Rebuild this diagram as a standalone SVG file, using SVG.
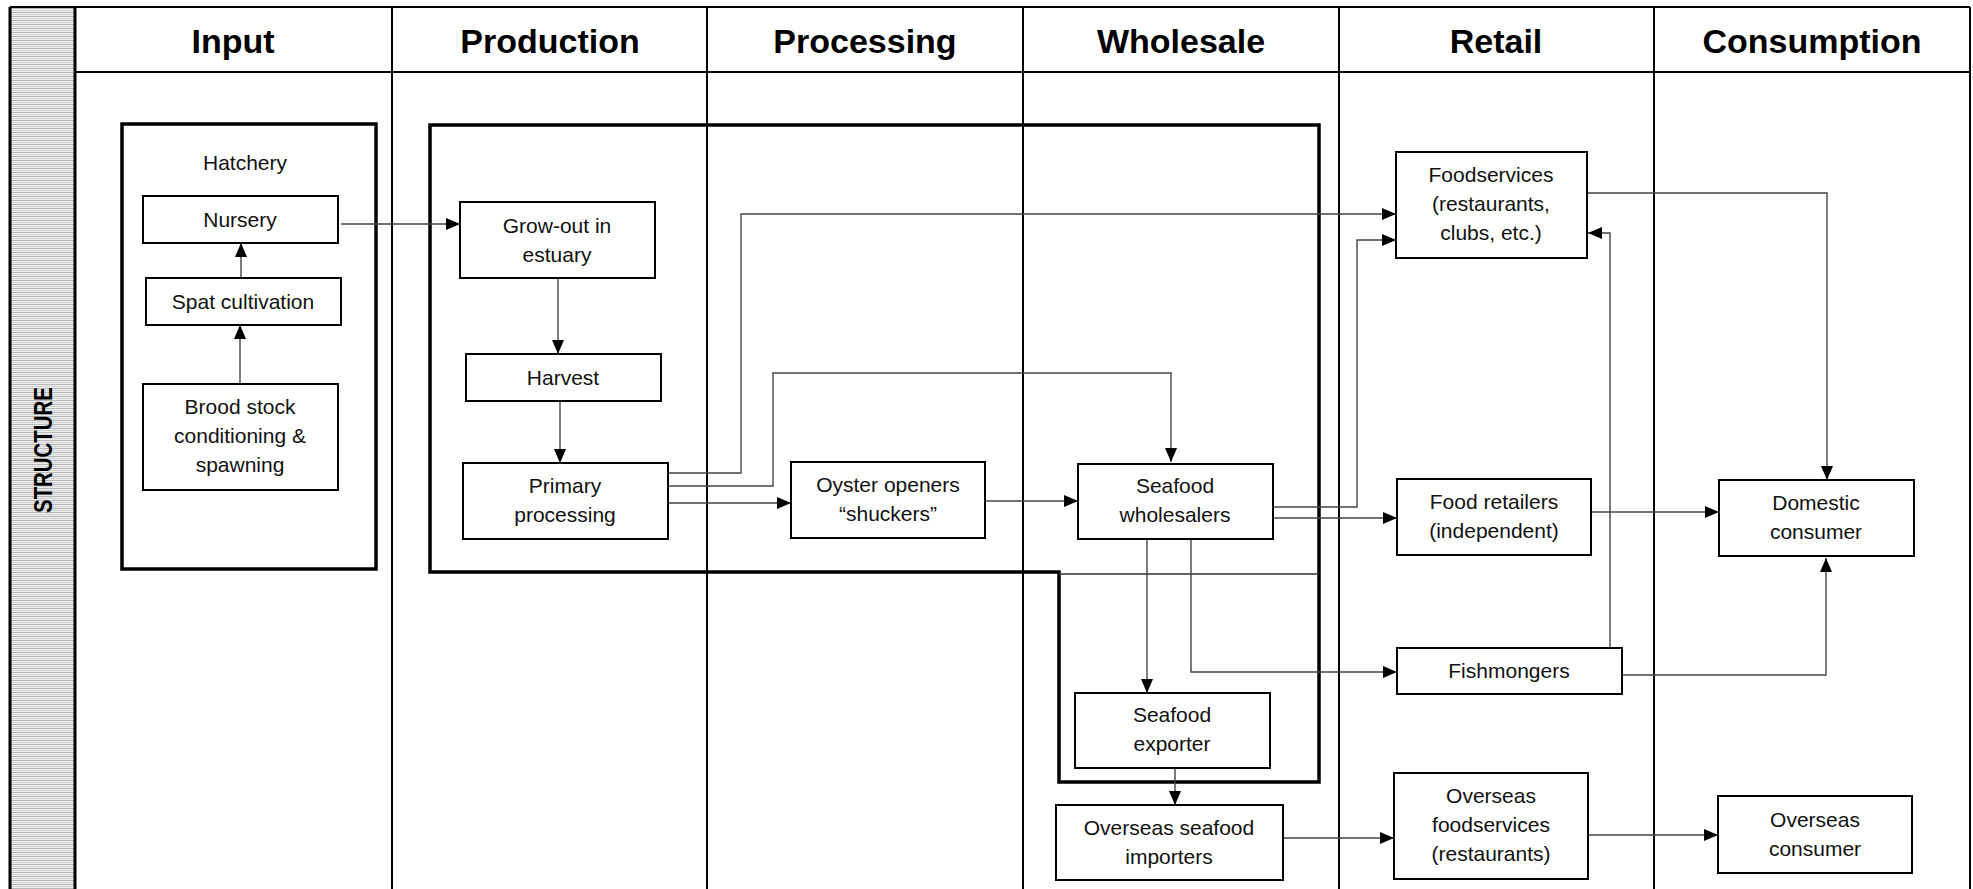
<svg xmlns="http://www.w3.org/2000/svg" width="1973" height="889" viewBox="0 0 1973 889">
<style>
.hdr{font-family:"Liberation Sans",Arial,sans-serif;font-weight:bold;font-size:34px;text-anchor:middle;fill:#000}
.lbl{font-family:"Liberation Sans",Arial,sans-serif;font-size:21px;text-anchor:middle;fill:#111}
.box{fill:#fff;stroke:#000;stroke-width:2}
.grid{stroke:#000;stroke-width:2;fill:none}
.thick{fill:none;stroke:#000;stroke-width:3.5}
.con{fill:none;stroke:#444;stroke-width:1.4}
</style>
<defs>
<pattern id="hatch" width="8" height="4" patternUnits="userSpaceOnUse">
<rect width="8" height="4" fill="#ececec"/>
<rect y="0" width="8" height="1" fill="#b8b8b8"/>
<rect y="2" width="8" height="1" fill="#d4d4d4"/>
</pattern>
<marker id="arr" markerWidth="14" markerHeight="12" refX="14" refY="6" orient="auto" markerUnits="userSpaceOnUse">
<path d="M0,0 L14,6 L0,12 z" fill="#000"/>
</marker>
</defs>
<rect width="1973" height="889" fill="#fff"/>
<g id="frame">
<rect x="10" y="7" width="65" height="890" fill="url(#hatch)"/>
<line class="grid" x1="10" y1="7" x2="1970" y2="7"/>
<line class="grid" x1="75" y1="72" x2="1970" y2="72"/>
<line x1="10" y1="7" x2="10" y2="889" stroke="#000" stroke-width="3"/>
<line x1="75" y1="7" x2="75" y2="889" stroke="#000" stroke-width="3"/>
<line class="grid" x1="392" y1="7" x2="392" y2="889"/>
<line class="grid" x1="707" y1="7" x2="707" y2="889"/>
<line class="grid" x1="1023" y1="7" x2="1023" y2="889"/>
<line class="grid" x1="1339" y1="7" x2="1339" y2="889"/>
<line class="grid" x1="1654" y1="7" x2="1654" y2="889"/>
<line class="grid" x1="1970" y1="7" x2="1970" y2="889"/>
<text class="hdr" x="233" y="53">Input</text>
<text class="hdr" x="550" y="53">Production</text>
<text class="hdr" x="865" y="53">Processing</text>
<text class="hdr" x="1181" y="53">Wholesale</text>
<text class="hdr" x="1496" y="53">Retail</text>
<text class="hdr" x="1812" y="53">Consumption</text>
<text transform="translate(52,450) rotate(-90)" font-family="Liberation Sans,Arial,sans-serif" font-weight="bold" font-size="26" text-anchor="middle" textLength="126" lengthAdjust="spacingAndGlyphs">STRUCTURE</text>
</g>
<g id="groups">
<rect class="thick" x="122" y="124" width="254" height="445"/>
<text class="lbl" x="245" y="170">Hatchery</text>
<path class="thick" d="M430,125 H1319 V782 H1059 V572 H430 Z"/>
<line x1="1059" y1="574" x2="1319" y2="574" stroke="#333" stroke-width="1.4"/>
</g>
<g id="connectors">
<path class="con" marker-end="url(#arr)" d="M341,224 H460"/>
<path class="con" marker-end="url(#arr)" d="M241,278 V243"/>
<path class="con" marker-end="url(#arr)" d="M240,384 V325"/>
<path class="con" marker-end="url(#arr)" d="M558,278 V354"/>
<path class="con" marker-end="url(#arr)" d="M560,401 V463"/>
<path class="con" marker-end="url(#arr)" d="M668,473 H741 V214 H1396"/>
<path class="con" marker-end="url(#arr)" d="M668,486 H773 V373 H1171 V462"/>
<path class="con" marker-end="url(#arr)" d="M668,503 H791"/>
<path class="con" marker-end="url(#arr)" d="M985,501 H1078"/>
<path class="con" marker-end="url(#arr)" d="M1273,507 H1357 V240 H1396"/>
<path class="con" marker-end="url(#arr)" d="M1273,518 H1397"/>
<path class="con" marker-end="url(#arr)" d="M1147,539 V693"/>
<path class="con" marker-end="url(#arr)" d="M1191,539 V672 H1397"/>
<path class="con" marker-end="url(#arr)" d="M1175,768 V805"/>
<path class="con" marker-end="url(#arr)" d="M1283,838 H1394"/>
<path class="con" marker-end="url(#arr)" d="M1588,835 H1718"/>
<path class="con" marker-end="url(#arr)" d="M1587,193 H1827 V480"/>
<path class="con" marker-end="url(#arr)" d="M1591,512 H1719"/>
<path class="con" marker-end="url(#arr)" d="M1622,675 H1826 V558"/>
<path class="con" marker-end="url(#arr)" d="M1610,648 V233 H1588"/>
</g>
<g id="nursery"><rect class="box" x="143" y="196" width="195" height="47"/><text class="lbl" x="240" y="227">Nursery</text></g>
<g id="spat"><rect class="box" x="146" y="278" width="195" height="47"/><text class="lbl" x="243" y="309">Spat cultivation</text></g>
<g id="brood"><rect class="box" x="143" y="384" width="195" height="106"/><text class="lbl" x="240" y="414">Brood stock</text><text class="lbl" x="240" y="443">conditioning &amp;</text><text class="lbl" x="240" y="472">spawning</text></g>
<g id="growout"><rect class="box" x="460" y="202" width="195" height="76"/><text class="lbl" x="557" y="233">Grow-out in</text><text class="lbl" x="557" y="262">estuary</text></g>
<g id="harvest"><rect class="box" x="466" y="354" width="195" height="47"/><text class="lbl" x="563" y="385">Harvest</text></g>
<g id="primary"><rect class="box" x="463" y="463" width="205" height="76"/><text class="lbl" x="565" y="493">Primary</text><text class="lbl" x="565" y="522">processing</text></g>
<g id="oyster"><rect class="box" x="791" y="462" width="194" height="76"/><text class="lbl" x="888" y="492">Oyster openers</text><text class="lbl" x="888" y="521">“shuckers”</text></g>
<g id="wholesalers"><rect class="box" x="1078" y="464" width="195" height="75"/><text class="lbl" x="1175" y="493">Seafood</text><text class="lbl" x="1175" y="522">wholesalers</text></g>
<g id="exporter"><rect class="box" x="1075" y="693" width="195" height="75"/><text class="lbl" x="1172" y="722">Seafood</text><text class="lbl" x="1172" y="751">exporter</text></g>
<g id="importers"><rect class="box" x="1056" y="805" width="227" height="75"/><text class="lbl" x="1169" y="835">Overseas seafood</text><text class="lbl" x="1169" y="864">importers</text></g>
<g id="foodservices"><rect class="box" x="1396" y="152" width="191" height="106"/><text class="lbl" x="1491" y="182">Foodservices</text><text class="lbl" x="1491" y="211">(restaurants,</text><text class="lbl" x="1491" y="240">clubs, etc.)</text></g>
<g id="retailers"><rect class="box" x="1397" y="479" width="194" height="76"/><text class="lbl" x="1494" y="509">Food retailers</text><text class="lbl" x="1494" y="538">(independent)</text></g>
<g id="fishmongers"><rect class="box" x="1397" y="648" width="225" height="46"/><text class="lbl" x="1509" y="678">Fishmongers</text></g>
<g id="ovfoodservices"><rect class="box" x="1394" y="773" width="194" height="106"/><text class="lbl" x="1491" y="803">Overseas</text><text class="lbl" x="1491" y="832">foodservices</text><text class="lbl" x="1491" y="861">(restaurants)</text></g>
<g id="domestic"><rect class="box" x="1719" y="480" width="195" height="76"/><text class="lbl" x="1816" y="510">Domestic</text><text class="lbl" x="1816" y="539">consumer</text></g>
<g id="ovconsumer"><rect class="box" x="1718" y="796" width="194" height="77"/><text class="lbl" x="1815" y="827">Overseas</text><text class="lbl" x="1815" y="856">consumer</text></g>
</svg>
